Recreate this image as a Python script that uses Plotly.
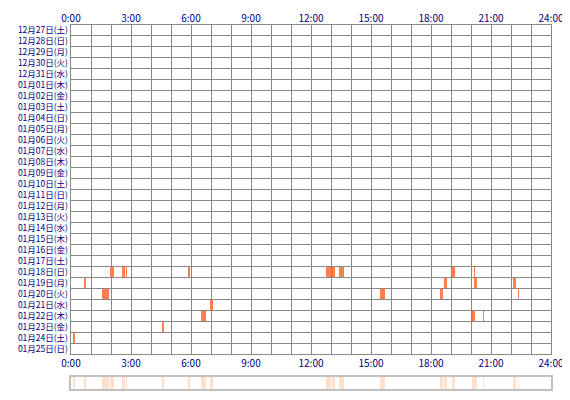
import plotly.graph_objects as go

dates = ["12月27日(土)","12月28日(日)","12月29日(月)","12月30日(火)","12月31日(水)",
 "01月01日(木)","01月02日(金)","01月03日(土)","01月04日(日)","01月05日(月)","01月06日(火)",
 "01月07日(水)","01月08日(木)","01月09日(金)","01月10日(土)","01月11日(日)","01月12日(月)",
 "01月13日(火)","01月14日(水)","01月15日(木)","01月16日(金)","01月17日(土)","01月18日(日)",
 "01月19日(月)","01月20日(火)","01月21日(水)","01月22日(木)","01月23日(金)","01月24日(土)","01月25日(日)"]
x_ticks = [0, 3, 6, 9, 12, 15, 18, 21, 24]
x_labels = ["0:00","3:00","6:00","9:00","12:00","15:00","18:00","21:00","24:00"]

# events: (day label, start hour, end hour)
ev_day = ["01月18日(日)"]*9 + ["01月19日(月)"]*4 + ["01月20日(火)"]*4 + ["01月21日(水)"] + ["01月22日(木)"]*3 + ["01月23日(金)", "01月24日(土)"]
ev_start = [1.95, 2.55, 2.75, 5.85, 12.75, 13.05, 13.4, 19.05, 20.15,
            0.65, 18.65, 20.15, 22.1,
            1.55, 15.45, 18.45, 22.35,
            6.95,
            6.5, 20.05, 20.6,
            4.55, 0.1]
ev_end = [2.15, 2.7, 2.8, 5.95, 13.0, 13.2, 13.65, 19.2, 20.2,
          0.75, 18.8, 20.3, 22.25,
          1.9, 15.7, 18.6, 22.4,
          7.1,
          6.75, 20.2, 20.65,
          4.65, 0.2]

n = len(dates)
rowy = [n - 0.5 - dates.index(d) for d in ev_day]
dur = [e - s for s, e in zip(ev_start, ev_end)]

fig = go.Figure()
fig.add_trace(go.Bar(orientation="h", base=ev_start, x=dur, y=rowy, width=0.9,
                     marker=dict(color="#FF7F50", line=dict(width=0)), xaxis="x", yaxis="y"))
fig.add_trace(go.Bar(orientation="h", base=ev_start, x=dur, y=[0.5]*len(dur), width=1,
                     marker=dict(color="#FFE0CC", line=dict(width=0)), xaxis="x3", yaxis="y3"))
fig.add_trace(go.Scatter(x=[None], y=[None], xaxis="x", yaxis="y2", showlegend=False))
fig.add_trace(go.Scatter(x=[None], y=[None], xaxis="x2", yaxis="y", showlegend=False))

font = dict(family="Noto Sans CJK JP", size=10, color="#000080")
yfont = dict(family="Noto Sans CJK JP", size=8.5, color="#000080")
grid = "#888888"
fig.update_layout(
    width=570, height=400, margin=dict(l=63, r=27, t=17, b=19),
    paper_bgcolor="white", plot_bgcolor="white", showlegend=False, bargap=0,
    font=font,
    xaxis=dict(range=[0, 24], showgrid=False, automargin=False,
               tickvals=x_ticks, ticktext=x_labels, ticks="", zeroline=False, anchor="y",
               side="bottom", tickfont=font, showline=True, mirror=True, linecolor=grid, linewidth=1.2,
               minor=dict(dtick=1, tick0=0, showgrid=True, gridcolor=grid, gridwidth=1.2)),
    xaxis2=dict(range=[0, 24], overlaying="x", side="top", tickvals=x_ticks, ticktext=x_labels,
                showgrid=False, zeroline=False, anchor="y", tickfont=font, automargin=False),
    yaxis=dict(domain=[0.096, 1], range=[0, n], dtick=1, showgrid=True, gridcolor=grid,
               gridwidth=1.2, showticklabels=False, zeroline=False, automargin=False,
               showline=True, mirror=True, linecolor=grid, linewidth=1.2),
    yaxis2=dict(overlaying="y", range=[0, n], tickvals=[n - 0.5 - i for i in range(n)],
                ticktext=dates, showgrid=False, zeroline=False, tickfont=yfont, anchor="x",
                automargin=False, ticklabelstandoff=2),
    xaxis3=dict(range=[0, 24], anchor="y3", showgrid=False, showticklabels=False, automargin=False,
                zeroline=False, showline=True, mirror=True, linecolor="#C0C0C0", linewidth=1.5),
    yaxis3=dict(domain=[0, 0.033], range=[0, 1], showgrid=False, showticklabels=False, automargin=False,
                zeroline=False, showline=True, mirror=True, linecolor="#C0C0C0", linewidth=1.5),
)
fig.write_html("out.html")
